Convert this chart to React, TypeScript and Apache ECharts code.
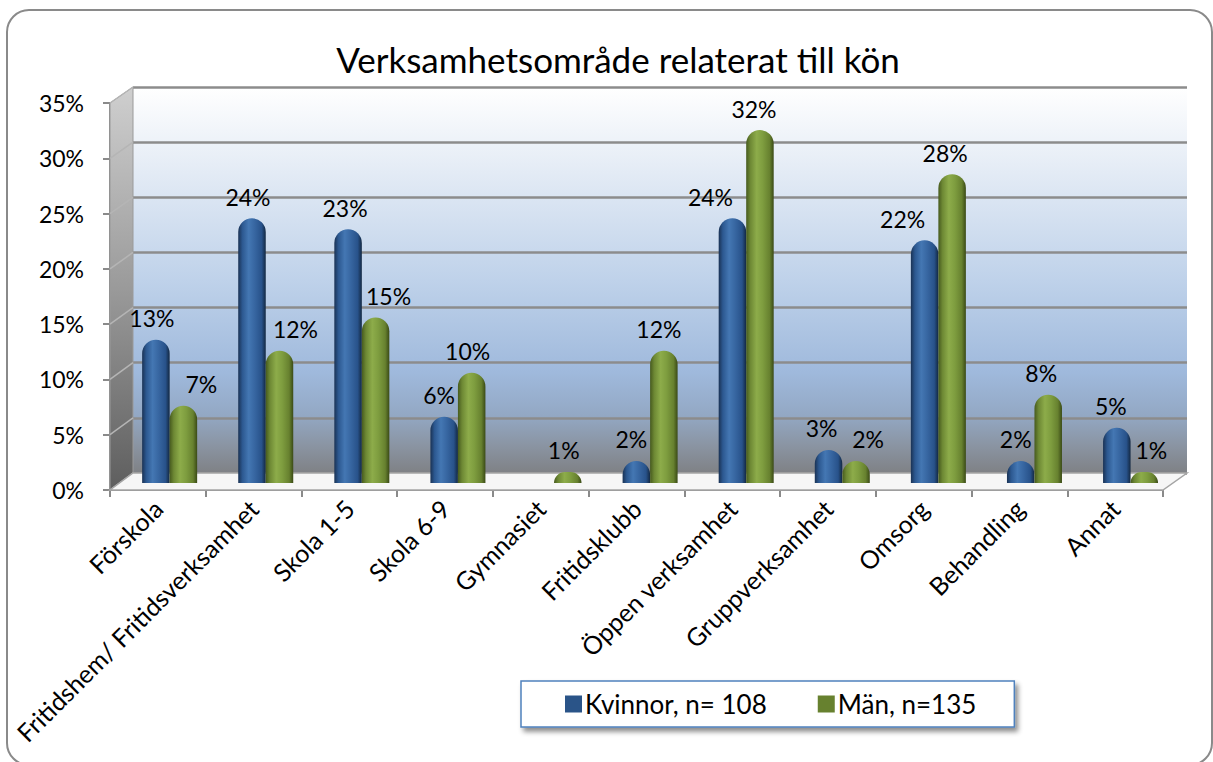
import React, { useEffect, useRef } from "react";
import * as echarts from "echarts";

const categories = [
  "Förskola",
  "Fritidshem/ Fritidsverksamhet",
  "Skola 1-5",
  "Skola 6-9",
  "Gymnasiet",
  "Fritidsklubb",
  "Öppen verksamhet",
  "Gruppverksamhet",
  "Omsorg",
  "Behandling",
  "Annat",
];
const kvinnor = [13, 24, 23, 6, 0, 2, 24, 3, 22, 2, 5];
const man = [7, 12, 15, 10, 1, 12, 32, 2, 28, 8, 1];
const seriesNames = ["Kvinnor, n= 108", "Män, n=135"];
const yTicks = [0, 5, 10, 15, 20, 25, 30, 35];

// label horizontal nudges (style only)
const kvinnorLabelShift = [-4, -4, -3, -5, 0, -5, -22, -7, -22, -5, -6];
const manLabelShift = [18, 16, 13, -4, -4, -5, -6, 12, -7, -7, 7];

const W = 1213;
const H = 762;
const FONT = "Lato, 'Noto Sans', sans-serif";

// layout constants
const front = { left: 110, right: 1163, y0: 490, y35: 103 };
const back = { left: 133, right: 1187, y0: 473, y35: 87 };
const barGrid = { left: 121.6, right: 1178.6, y0: 483, y35: 97 };

export default function App() {
  const ref = useRef<HTMLDivElement>(null);
  useEffect(() => {
    document.body.style.margin = "0";
    if (!ref.current) return;
    const chart = echarts.init(ref.current, null, { renderer: "svg" });

    const blue = new echarts.graphic.LinearGradient(0, 0, 1, 0, [
      { offset: 0, color: "#1a3254" },
      { offset: 0.15, color: "#2c5890" },
      { offset: 0.38, color: "#4477b3" },
      { offset: 0.6, color: "#3766a1" },
      { offset: 0.85, color: "#28528a" },
      { offset: 1, color: "#132842" },
    ]);
    const green = new echarts.graphic.LinearGradient(0, 0, 1, 0, [
      { offset: 0, color: "#465a1e" },
      { offset: 0.15, color: "#6d8834" },
      { offset: 0.38, color: "#8dac4a" },
      { offset: 0.6, color: "#7e9d3f" },
      { offset: 0.85, color: "#67812f" },
      { offset: 1, color: "#3a4a16" },
    ]);

    const wallGrad = new echarts.graphic.LinearGradient(0, 0, 0, 1, [
      { offset: 0, color: "#ffffff" },
      { offset: 0.2, color: "#e6edf6" },
      { offset: 0.5, color: "#bfd2ea" },
      { offset: 0.74, color: "#9fb9dc" },
      { offset: 0.85, color: "#93a8c4" },
      { offset: 0.93, color: "#8a94a2" },
      { offset: 1, color: "#7f8185" },
    ]);

    const sideWall = new echarts.graphic.LinearGradient(0, 0, 0, 1, [
      { offset: 0, color: "#cfcfcf" },
      { offset: 0.5, color: "#9a9a9a" },
      { offset: 1, color: "#5e5e5e" },
    ]);

    const fy = (v: number) => front.y0 + ((front.y35 - front.y0) * v) / 35;
    const by = (v: number) => back.y0 + ((back.y35 - back.y0) * v) / 35;

    const sideLines = yTicks.map((v) => ({
      type: "line",
      z: 1,
      shape: { x1: front.left, y1: fy(v), x2: back.left, y2: by(v) },
      style: { stroke: "#b5b5b5", lineWidth: 1.5 },
    }));

    const labelStyle = {
      show: true,
      position: "top",
      distance: 10,
      fontSize: 23,
      fontFamily: FONT,
      color: "#000",
      formatter: (p: any) => (p.value > 0 ? p.value + "%" : ""),
    };

    const option: any = {
      animation: false,
      backgroundColor: "#ffffff",
      title: {
        text: "Verksamhetsområde relaterat till kön",
        left: 613,
        top: 36,
        textAlign: "center",
        textStyle: { fontFamily: FONT, fontSize: 35, fontWeight: "normal", color: "#000" },
      },
      legend: {
        data: [
          { name: seriesNames[0], itemStyle: { color: "#2a5488" } },
          { name: seriesNames[1], itemStyle: { color: "#67812f" } },
        ],
        left: 521,
        top: 681,
        icon: "rect",
        itemWidth: 17,
        itemHeight: 17,
        itemGap: 51,
        padding: [10, 38, 10, 44],
        backgroundColor: "#ffffff",
        borderColor: "#4f81bd",
        borderWidth: 1.5,
        shadowBlur: 5,
        shadowOffsetX: 3,
        shadowOffsetY: 4,
        shadowColor: "rgba(0,0,0,0.45)",
        textStyle: { fontFamily: FONT, fontSize: 26, color: "#000", padding: [0, 0, 0, -2] },
      },
      grid: [
        {
          left: barGrid.left,
          right: W - barGrid.right,
          top: barGrid.y35,
          bottom: H - barGrid.y0,
        },
        {
          left: front.left,
          right: W - front.right,
          top: front.y35,
          bottom: H - front.y0,
        },
        {
          left: back.left,
          right: W - back.right,
          top: back.y35,
          bottom: H - back.y0,
          show: true,
          backgroundColor: wallGrad,
          borderWidth: 0,
          z: -1,
        },
      ],
      xAxis: [
        { type: "category", data: categories, gridIndex: 0, show: false },
        {
          type: "category",
          data: categories,
          gridIndex: 1,
          axisLine: { show: true, lineStyle: { color: "#8a8a8a", width: 2 } },
          axisTick: { show: true, length: 7, lineStyle: { color: "#8a8a8a", width: 2 } },
          axisLabel: {
            interval: 0,
            rotate: 45,
            margin: 14,
            fontSize: 25,
            fontFamily: FONT,
            color: "#000",
          },
        },
        { type: "category", data: categories, gridIndex: 2, show: false },
      ],
      yAxis: [
        { type: "value", gridIndex: 0, min: 0, max: 35, interval: 5, show: false },
        {
          type: "value",
          gridIndex: 1,
          min: 0,
          max: 35,
          interval: 5,
          axisLine: { show: true, lineStyle: { color: "#8a8a8a", width: 2 } },
          axisTick: { show: true, length: 7, lineStyle: { color: "#8a8a8a", width: 2 } },
          splitLine: { show: false },
          axisLabel: {
            formatter: "{value}%",
            margin: 26,
            fontSize: 23,
            fontFamily: FONT,
            color: "#000",
          },
        },
        {
          type: "value",
          gridIndex: 2,
          min: 0,
          max: 35,
          interval: 5,
          axisLine: { show: false },
          axisTick: { show: false },
          axisLabel: { show: false },
          splitLine: { show: true, lineStyle: { color: "#8c8c8c", width: 2.5 } },
        },
      ],
      graphic: [
        {
          type: "rect",
          z: 0,
          silent: true,
          shape: { x: 7, y: 10, width: 1205, height: 755, r: 22 },
          style: { fill: "none", stroke: "#8a8a8a", lineWidth: 2 },
        },
        {
          type: "polygon",
          z: 1,
          shape: {
            points: [
              [front.left, front.y35],
              [back.left, back.y35],
              [back.left, back.y0],
              [front.left, front.y0],
            ],
          },
          style: { fill: sideWall, stroke: "#9a9a9a", lineWidth: 1 },
        },
        ...sideLines,
        {
          type: "polygon",
          z: 1,
          shape: {
            points: [
              [front.left, front.y0],
              [front.right, front.y0],
              [back.right, back.y0],
              [back.left, back.y0],
            ],
          },
          style: { fill: "#f6f6f6", stroke: "#a5a5a5", lineWidth: 1.5 },
        },
      ],
      series: [
        {
          name: seriesNames[0],
          type: "bar",
          xAxisIndex: 0,
          yAxisIndex: 0,
          barWidth: 27.5,
          barGap: "0%",
          z: 3,
          itemStyle: { color: blue, borderRadius: [14, 14, 0, 0] },
          data: kvinnor.map((v, i) => ({
            value: v,
            label: { ...labelStyle, offset: [kvinnorLabelShift[i], 0] },
          })),
        },
        {
          name: seriesNames[1],
          type: "bar",
          xAxisIndex: 0,
          yAxisIndex: 0,
          barWidth: 27.5,
          barGap: "0%",
          z: 3,
          itemStyle: { color: green, borderRadius: [14, 14, 0, 0] },
          data: man.map((v, i) => ({
            value: v,
            label: { ...labelStyle, offset: [manLabelShift[i], 0] },
          })),
        },
      ],
    };
    chart.setOption(option);
    return () => chart.dispose();
  }, []);
  return <div ref={ref} style={{ width: W, height: H }} />;
}
